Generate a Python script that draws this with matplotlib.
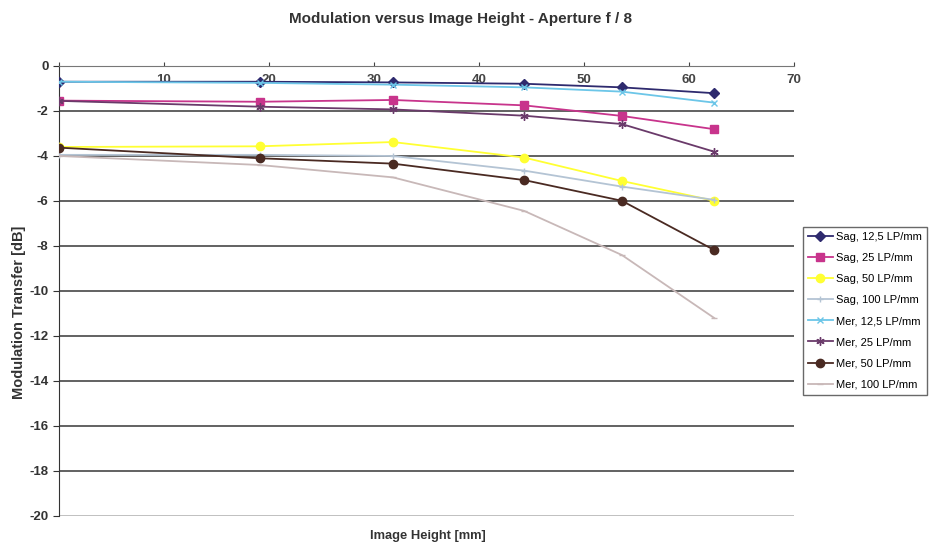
import matplotlib.pyplot as plt

# image height positions [mm]
height = [0, 19.1, 31.8, 44.3, 53.6, 62.4]

# modulation transfer [dB]
sag_12 = [-0.70, -0.70, -0.73, -0.79, -0.95, -1.21]
sag_25 = [-1.54, -1.59, -1.51, -1.75, -2.22, -2.81]
sag_50 = [-3.60, -3.57, -3.38, -4.07, -5.11, -5.99]
sag_100 = [-3.95, -3.95, -4.00, -4.65, -5.36, -5.95]
mer_12 = [-0.70, -0.75, -0.83, -0.95, -1.14, -1.63]
mer_25 = [-1.55, -1.81, -1.93, -2.21, -2.58, -3.81]
mer_50 = [-3.63, -4.10, -4.34, -5.07, -5.99, -8.18]
mer_100 = [-4.00, -4.40, -4.95, -6.44, -8.40, -11.20]

x_labels = ["", "10", "20", "30", "40", "50", "60", "70"]

series = [
    ("Sag, 12,5 LP/mm", sag_12, "#2e2a6e", "D", 5),
    ("Sag, 25 LP/mm", sag_25, "#c8348c", "s", 6),
    ("Sag, 50 LP/mm", sag_50, "#ffff33", "o", 6),
    ("Sag, 100 LP/mm", sag_100, "#b4c4d4", "+", 4),
    ("Mer, 12,5 LP/mm", mer_12, "#6cc6e8", "x", 5),
    ("Mer, 25 LP/mm", mer_25, "#6a3a6a", (6, 2, 0), 6),
    ("Mer, 50 LP/mm", mer_50, "#4a2a22", "o", 6),
    ("Mer, 100 LP/mm", mer_100, "#c8b8b8", "_", 4),
]

plt.rcParams['font.family'] = ['Liberation Sans', 'DejaVu Sans']
plt.rcParams['axes.unicode_minus'] = False

fig = plt.figure(figsize=(9.3, 5.48), dpi=100)
ax = fig.add_axes([0.0634, 0.0584, 0.7904, 0.8212])

for y in range(-2, -21, -2):
    ax.axhline(y, color="#555555" if y > -20 else "#bbbbbb", lw=1.3, zorder=1)

for label, vals, col, mk, ms in series:
    ax.plot(height, vals, color=col, marker=mk, markersize=ms, lw=1.3,
            label=label, zorder=3)

ax.set_xlim(0, 70)
ax.set_ylim(-20, 0)
ax.set_yticks(range(0, -21, -2))
ax.set_xticks(range(0, 71, 10))
ax.set_xticklabels(x_labels)

# x axis sits at y = 0, tick marks point up, labels below the line
ax.spines['bottom'].set_position(('data', 0))
ax.spines['bottom'].set_color("#777777")
ax.spines['top'].set_visible(False)
ax.spines['right'].set_visible(False)
ax.spines['left'].set_color("#333333")
ax.xaxis.set_ticks_position('bottom')
ax.tick_params(axis='x', direction='in', length=3, pad=6,
               labelsize=9.5, colors="#444444")
ax.tick_params(axis='y', direction='out', length=4, labelsize=9.5,
               colors="#333333")
for t in ax.get_xticklabels() + ax.get_yticklabels():
    t.set_fontweight('bold')

fig.text(0.495, 0.965, "Modulation versus Image Height - Aperture f / 8",
         ha='center', va='center', fontsize=11, fontweight='bold',
         color="#333333")
fig.text(0.46, 0.022, "Image Height [mm]", ha='center', va='center',
         fontsize=9.3, fontweight='bold', color="#333333")
fig.text(0.02, 0.43, "Modulation Transfer [dB]", ha='center', va='center',
         rotation=90, fontsize=10.5, fontweight='bold', color="#333333")

leg = ax.legend(loc='upper left', bbox_to_anchor=(1.005, 0.655),
                fontsize=8, frameon=True, fancybox=False,
                edgecolor="#444444", borderpad=0.45, labelspacing=1.0,
                handlelength=2.2, handletextpad=0.3)
leg.get_frame().set_linewidth(1.0)

fig.savefig("out.png", dpi=100)
